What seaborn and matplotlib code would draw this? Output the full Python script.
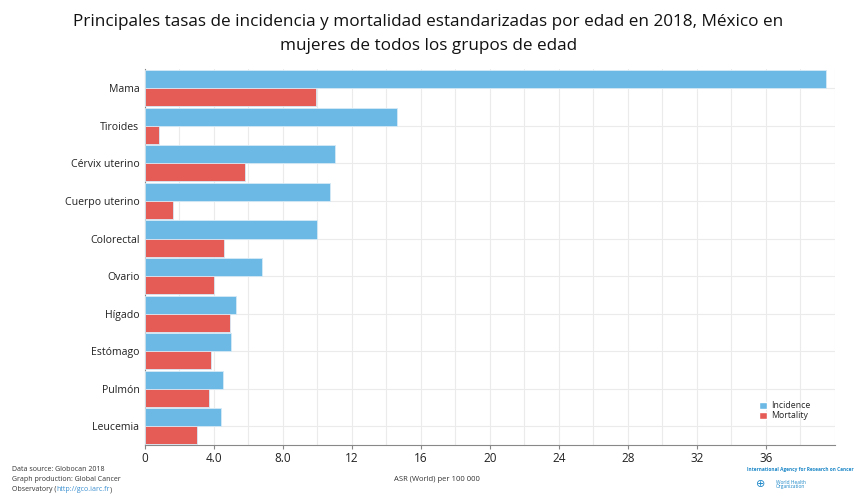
import matplotlib
matplotlib.use("Agg")
import matplotlib.pyplot as plt
import seaborn as sns
import pandas as pd
from matplotlib.patches import Patch

categories = ["Mama", "Tiroides", "Cérvix uterino", "Cuerpo uterino", "Colorectal",
              "Ovario", "Hígado", "Estómago", "Pulmón", "Leucemia"]
incidence = [39.5, 14.6, 11.0, 10.7, 10.0, 6.8, 5.3, 5.0, 4.5, 4.4]
mortality = [9.9, 0.8, 5.8, 1.6, 4.6, 4.0, 4.9, 3.8, 3.7, 3.0]
series_names = ["Incidence", "Mortality"]
xticks = [0, 4, 8, 12, 16, 20, 24, 28, 32, 36]
xtick_labels = ["0", "4.0", "8.0", "12", "16", "20", "24", "28", "32", "36"]

df = pd.DataFrame({
    "cancer": categories * 2,
    "value": incidence + mortality,
    "series": [series_names[0]] * len(categories) + [series_names[1]] * len(categories),
})

blue = "#6BB9E4"
red = "#E55B56"

sns.set_theme(style="white")
plt.rcParams["font.family"] = ["Open Sans", "DejaVu Sans"]

fig = plt.figure(figsize=(8.57, 4.97), dpi=100)
ax = fig.add_axes([0.1692, 0.1046, 0.805, 0.757])

sns.barplot(data=df, y="cancer", x="value", hue="series", orient="h",
            palette=[blue, red], saturation=1, width=0.96, gap=0, ax=ax,
            edgecolor="#D6EAF6", linewidth=0.6, legend=False, zorder=3)

ax.set_xlim(0, 40)
ax.set_ylim(9.5, -0.52)
ax.set_xticks(xticks)
ax.set_xticklabels(xtick_labels, fontsize=8.5, color="#222222")
ax.set_xticks(range(0, 41, 2), minor=True)
ax.grid(True, which="both", axis="x", color="#EBEBEB", linewidth=0.8, zorder=0)
ax.grid(True, which="major", axis="y", color="#EBEBEB", linewidth=0.8, zorder=0)
ax.set_axisbelow(True)
ax.tick_params(axis="y", labelsize=7.6, length=0, pad=4, colors="#222222")
ax.tick_params(axis="x", which="major", length=3, width=0.8, color="#888888",
               direction="out", bottom=True, pad=2)
ax.tick_params(axis="x", which="minor", length=0)
ax.set_xlabel("")
ax.set_ylabel("")
for s in ["top", "right"]:
    ax.spines[s].set_visible(False)
ax.spines["left"].set_color("#888888")
ax.spines["bottom"].set_color("#888888")
ax.spines["left"].set_linewidth(0.8)
ax.spines["bottom"].set_linewidth(0.8)

handles = [Patch(facecolor=blue, label=series_names[0]),
           Patch(facecolor=red, label=series_names[1])]
leg = ax.legend(handles=handles, loc="upper left", bbox_to_anchor=(0.885, 0.125),
                frameon=False, fontsize=6.3, handlelength=0.9, handleheight=0.9,
                handletextpad=0.5, labelspacing=0.1, borderaxespad=0)

fig.text(0.5, 0.955, "Principales tasas de incidencia y mortalidad estandarizadas por edad en 2018, México en",
         ha="center", va="center", fontsize=12.3, color="#111111")
fig.text(0.5, 0.908, "mujeres de todos los grupos de edad",
         ha="center", va="center", fontsize=12.3, color="#111111")

fig.text(0.51, 0.035, "ASR (World) per 100 000", ha="center", va="center",
         fontsize=5.5, color="#333333")

fig.text(0.014, 0.055, "Data source: Globocan 2018", fontsize=5, color="#333333", va="center")
fig.text(0.014, 0.035, "Graph production: Global Cancer", fontsize=5, color="#333333", va="center")
t1 = fig.text(0.014, 0.015, "Observatory (", fontsize=5, color="#333333", va="center")
t2 = fig.text(0, 0, "http://gco.iarc.fr", fontsize=5, color="#3A8FD0",
              va="bottom", transform=matplotlib.transforms.offset_copy(
                  t1.get_transform(), fig=fig, x=0, y=0))
t2.remove()
a2 = fig.add_artist(matplotlib.text.Annotation(
    "http://gco.iarc.fr", xy=(1, 0), xycoords=t1, va="bottom", ha="left",
    fontsize=5, color="#3A8FD0"))
a3 = fig.add_artist(matplotlib.text.Annotation(
    ")", xy=(1, 0), xycoords=a2, va="bottom", ha="left",
    fontsize=5, color="#333333"))

fig.text(0.872, 0.055, "International Agency for Research on Cancer", fontsize=3.4,
         color="#1E88C8", va="center", fontweight="bold")
fig.text(0.905, 0.025, "World Health\nOrganization", fontsize=3.5,
         color="#1E88C8", va="center", linespacing=0.9)
fig.text(0.888, 0.025, "\u2295", fontsize=8, color="#1E88C8", va="center", ha="center")

fig.savefig("out.png", dpi=100)
